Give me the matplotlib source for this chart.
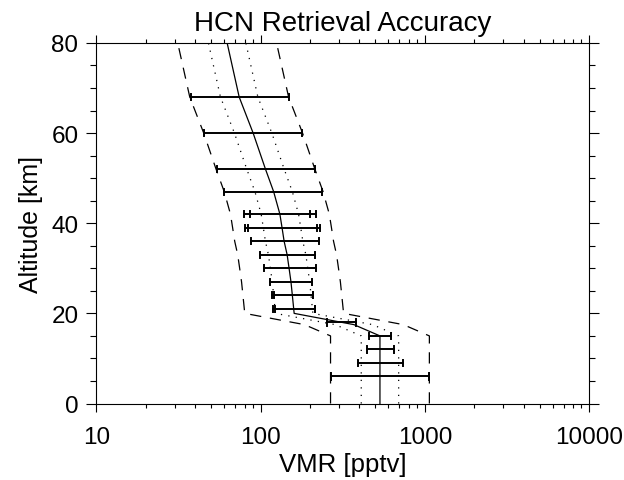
import matplotlib.pyplot as plt
from matplotlib.ticker import FixedLocator, NullFormatter
import numpy as np

plt.rcParams['font.family'] = ['Liberation Sans', 'DejaVu Sans']

# Retrieved HCN profile (altitude km, VMR pptv)
alt = [0, 15, 17.5, 20, 21, 24, 27, 30, 33, 36, 39, 42, 47, 52, 60, 68, 74, 80]
vmr = [533, 533, 370, 160, 159, 156, 153, 149, 145, 139, 135, 131, 120, 107, 90, 74, 68, 62.5]

# envelope factors (dotted = x/÷ 1.3, dashed = x/÷ 2)
dotted_factor = 1.3
dashed_factor = 2.0

# accuracy error bars
bar_alt = [68, 60, 52, 47, 42, 39, 36, 33, 30, 27, 24, 21, 18, 15, 12, 9, 6]
bar_lo = [37.5, 45.2, 54, 59.8, 79.4, 80.2, 87.3, 99.5, 104.7, 114, 117, 118.8, 254, 459, 442, 394, 268]
bar_hi = [148.8, 179, 214, 237, 216, 229.6, 225.5, 214, 216, 206, 209, 214, 380, 619, 649, 733, 1064]

# second (inner) set of caps visible on some bars
inner_alt = [42, 39, 24, 21]
inner_lo = [86, 83.4, 121, 122]
inner_hi = [201, 219, 209, 214]

fig = plt.figure(figsize=(6.24, 4.81), dpi=100)
ax = fig.add_axes([0.1546, 0.159, 0.7893, 0.7497])

vmr = np.array(vmr)
ax.plot(vmr, alt, color='black', lw=0.9)
ax.plot(vmr / dotted_factor, alt, color='black', lw=0.9, linestyle=(0, (1, 5)))
ax.plot(vmr * dotted_factor, alt, color='black', lw=0.9, linestyle=(0, (1, 5)))
ax.plot(vmr / dashed_factor, alt, color='black', lw=0.9, linestyle=(0, (9, 7)))
ax.plot(vmr * dashed_factor, alt, color='black', lw=0.9, linestyle=(0, (9, 7)))

# error bars: horizontal segment with caps
for a, lo, hi in zip(bar_alt, bar_lo, bar_hi):
    ax.plot([lo, hi], [a, a], color='black', lw=1.4)
    ax.plot([lo, lo], [a - 0.7, a + 0.7], color='black', lw=1.4)
    ax.plot([hi, hi], [a - 0.7, a + 0.7], color='black', lw=1.4)
for a, lo, hi in zip(inner_alt, inner_lo, inner_hi):
    ax.plot([lo, lo], [a - 0.7, a + 0.7], color='black', lw=1.4)
    ax.plot([hi, hi], [a - 0.7, a + 0.7], color='black', lw=1.4)

ax.set_xscale('log')
ax.set_xlim(10, 10000)
ax.set_ylim(0, 80)

ax.xaxis.set_major_locator(FixedLocator([10, 100, 1000, 10000]))
ax.set_xticklabels(['10', '100', '1000', '10000'])
ax.xaxis.set_minor_locator(FixedLocator([m * 10 ** e for e in range(1, 4) for m in range(2, 10)]))
ax.xaxis.set_minor_formatter(NullFormatter())
ax.set_yticks([0, 20, 40, 60, 80])
ax.yaxis.set_minor_locator(FixedLocator(list(range(0, 81, 5))))

ax.tick_params(which='both', direction='out', top=True, right=True, width=0.8,
               labelsize=17.5, colors='black')
ax.tick_params(axis='x', which='major', length=6, pad=10)
ax.tick_params(axis='x', which='minor', length=3)
ax.tick_params(axis='y', which='major', length=7, pad=6)
ax.tick_params(axis='y', which='minor', length=4.5)
for s in ax.spines.values():
    s.set_linewidth(0.8)

ax.set_title('HCN Retrieval Accuracy', fontsize=20, pad=9)
ax.set_xlabel('VMR [pptv]', fontsize=18.5, labelpad=3)
ax.set_ylabel('Altitude [km]', fontsize=18, labelpad=6)

fig.savefig('out.png', dpi=100)
